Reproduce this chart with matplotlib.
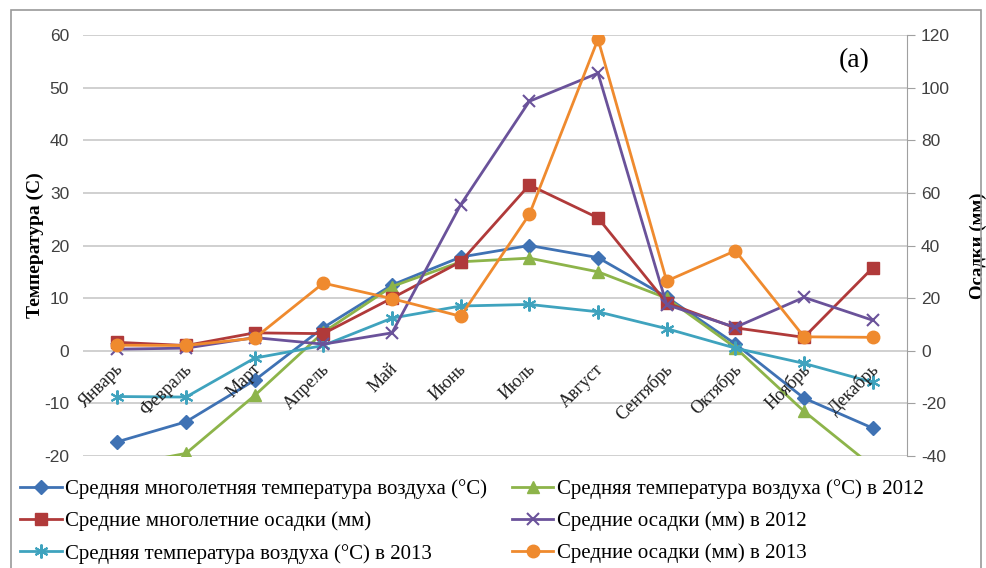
import matplotlib
matplotlib.use('Agg')
import matplotlib.pyplot as plt
from matplotlib.patches import Rectangle

plt.rcParams['axes.unicode_minus'] = False

months = ['Январь', 'Февраль', 'Март', 'Апрель', 'Май', 'Июнь',
          'Июль', 'Август', 'Сентябрь', 'Октябрь', 'Ноябрь', 'Декабрь']

# temperature, °C (left axis)
temp_mean = [-17.3, -13.5, -5.6, 4.4, 12.5, 17.8, 20.0, 17.7, 10.2, 1.3, -9.0, -14.7]
temp_2012 = [-22.0, -19.5, -8.5, 3.5, 12.2, 16.9, 17.6, 15.0, 10.0, 0.6, -11.5, -22.0]
temp_2013 = [-8.7, -8.8, -1.4, 1.0, 6.2, 8.5, 8.8, 7.4, 4.2, 0.5, -2.4, -6.0]

# precipitation, mm (right axis)
prec_mean = [3.2, 2.0, 6.8, 6.5, 20.0, 33.8, 63.0, 50.5, 18.2, 8.7, 5.1, 31.5]
prec_2012 = [0.6, 1.0, 5.0, 2.5, 6.8, 55.5, 94.8, 105.5, 17.5, 8.9, 20.3, 11.6]
prec_2013 = [2.1, 2.0, 4.8, 25.7, 19.8, 13.1, 51.8, 118.4, 26.5, 38.0, 5.3, 5.1]

C_BLUE   = '#3F72B4'
C_GREEN  = '#8DB44A'
C_RED    = '#B03A3A'
C_PURPLE = '#6A529A'
C_CYAN   = '#3FA3BE'
C_ORANGE = '#EF8A2E'

SERIF = 'Liberation Serif'
SANS  = 'Liberation Sans'

fig = plt.figure(figsize=(9.87, 5.68), dpi=100)
ax = fig.add_axes([83 / 987, 1 - 456 / 568, (907 - 83) / 987, (456 - 35) / 568])
ax2 = ax.twinx()

x = list(range(len(months)))

l_mean, = ax.plot(x, temp_mean, color=C_BLUE, lw=2, marker='D', ms=7,
                  label='Средняя многолетняя температура воздуха (°C)')
l_2012, = ax.plot(x, temp_2012, color=C_GREEN, lw=2, marker='^', ms=8,
                  label='Средняя температура воздуха (°C) в 2012')
l_2013, = ax.plot(x, temp_2013, color=C_CYAN, lw=2, marker=(6, 2, 0), ms=10, mew=1.5,
                  label='Средняя температура воздуха (°C) в 2013')

p_mean, = ax2.plot(x, prec_mean, color=C_RED, lw=2, marker='s', ms=9,
                   label='Средние многолетние осадки (мм)')
p_2012, = ax2.plot(x, prec_2012, color=C_PURPLE, lw=2, marker='x', ms=9, mew=1.5,
                   label='Средние осадки (мм) в 2012')
p_2013, = ax2.plot(x, prec_2013, color=C_ORANGE, lw=2, marker='o', ms=9,
                   label='Средние осадки (мм) в 2013')

ax.set_xlim(-0.5, len(months) - 0.5)
ax.set_ylim(-20, 60)
ax.set_yticks(range(-20, 61, 10))
ax2.set_ylim(-40, 120)
ax2.set_yticks(range(-40, 121, 20))

ax.grid(axis='y', color='#c8c8c8', lw=1.2)
ax.set_axisbelow(True)
ax.set_xticks([])
for side in ['left', 'top', 'bottom']:
    ax.spines[side].set_visible(False)
    ax2.spines[side].set_visible(False)
ax.spines['right'].set_visible(False)
ax2.spines['right'].set_color('#a0a0a0')

ax.tick_params(axis='y', length=0, pad=10, labelsize=12.5, labelcolor='#404040')
ax2.tick_params(axis='y', length=6, color='#a0a0a0', pad=4, labelsize=12.5, labelcolor='#404040')
for lab in ax.get_yticklabels() + ax2.get_yticklabels():
    lab.set_family(SANS)

# month labels sit under the zero line, rotated like in Excel
for i, m in enumerate(months):
    ax.annotate(m, xy=(i, 0), xytext=(-2, -7), textcoords='offset points',
                rotation=45, ha='right', va='top', rotation_mode='anchor',
                fontsize=13, family=SERIF, color='#202020')

ax.set_ylabel('Температура (С)', family=SERIF, fontweight='bold', fontsize=14, labelpad=0)
ax2.set_ylabel('Осадки (мм)', family=SERIF, fontweight='bold', fontsize=13.5,
               rotation=90, labelpad=14)

ax.text(0.955, 0.94, '(a)', transform=ax.transAxes, ha='right', va='center',
        fontsize=20, family=SERIF)

handles = [l_mean, p_mean, l_2013, l_2012, p_2012, p_2013]
fig.legend(handles=handles, loc='upper left', bbox_to_anchor=(20 / 987, 1 - 479 / 568),
           ncol=2, frameon=False, prop={'family': SERIF, 'size': 15},
           handlelength=2.0, handletextpad=0.15, columnspacing=1.2, labelspacing=0.6,
           borderaxespad=0, borderpad=0)

fig.add_artist(Rectangle((11 / 987, -0.01), 970 / 987, 1 - 10 / 568 + 0.01,
                         transform=fig.transFigure, fill=False,
                         edgecolor='#9a9a9a', lw=1.2))

fig.savefig('out.png', dpi=100)
